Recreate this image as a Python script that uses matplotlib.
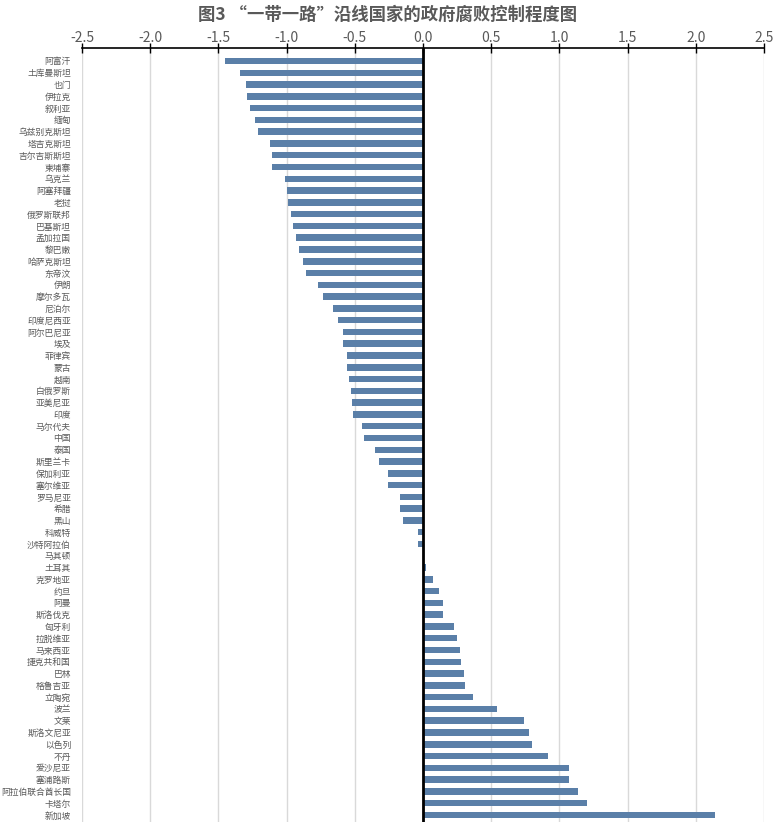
import matplotlib
matplotlib.use('Agg')
from matplotlib import pyplot as plt

plt.rcParams['font.family'] = ['Noto Sans CJK SC', 'DejaVu Sans']

title = '图3 “一带一路”沿线国家的政府腐败控制程度图'

countries = [
    '阿富汗', '土库曼斯坦', '也门', '伊拉克', '叙利亚', '缅甸', '乌兹别克斯坦',
    '塔吉克斯坦', '吉尔吉斯斯坦', '柬埔寨', '乌克兰', '阿塞拜疆', '老挝',
    '俄罗斯联邦', '巴基斯坦', '孟加拉国', '黎巴嫩', '哈萨克斯坦', '东帝汶',
    '伊朗', '摩尔多瓦', '尼泊尔', '印度尼西亚', '阿尔巴尼亚', '埃及', '菲律宾',
    '蒙古', '越南', '白俄罗斯', '亚美尼亚', '印度', '马尔代夫', '中国', '泰国',
    '斯里兰卡', '保加利亚', '塞尔维亚', '罗马尼亚', '希腊', '黑山', '科威特',
    '沙特阿拉伯', '马其顿', '土耳其', '克罗地亚', '约旦', '阿曼', '斯洛伐克',
    '匈牙利', '拉脱维亚', '马来西亚', '捷克共和国', '巴林', '格鲁吉亚', '立陶宛',
    '波兰', '文莱', '斯洛文尼亚', '以色列', '不丹', '爱沙尼亚', '塞浦路斯',
    '阿拉伯联合酋长国', '卡塔尔', '新加坡',
]

scores = [
    -1.45, -1.34, -1.30, -1.29, -1.27, -1.23, -1.21,
    -1.12, -1.11, -1.11, -1.01, -1.00, -0.99,
    -0.97, -0.95, -0.93, -0.91, -0.88, -0.86,
    -0.77, -0.73, -0.66, -0.62, -0.59, -0.59, -0.56,
    -0.56, -0.54, -0.53, -0.52, -0.51, -0.45, -0.43, -0.35,
    -0.32, -0.26, -0.26, -0.17, -0.17, -0.15, -0.04,
    -0.04, 0.00, 0.02, 0.07, 0.12, 0.15, 0.15,
    0.23, 0.25, 0.27, 0.28, 0.30, 0.31, 0.37,
    0.54, 0.74, 0.78, 0.80, 0.92, 1.07, 1.07,
    1.14, 1.20, 2.14,
]

xticks = [-2.5, -2.0, -1.5, -1.0, -0.5, 0.0, 0.5, 1.0, 1.5, 2.0, 2.5]

fig = plt.figure(figsize=(7.76, 8.24), dpi=100)
ax = fig.add_axes([0.1057, 0.0024, 0.8788, 0.9393])

pos = list(range(len(countries)))
ax.barh(pos, scores, height=0.55, color='#5a7fa8', zorder=3)

ax.set_xlim(-2.5, 2.5)
ax.set_ylim(len(countries) - 0.4, -1.1)
ax.set_xticks(xticks)
ax.set_xticklabels(['%.1f' % t for t in xticks])
ax.set_yticks(pos)
ax.set_yticklabels(countries)

ax.xaxis.tick_top()
ax.tick_params(axis='x', direction='inout', length=7, width=1, colors='#000000',
               labelcolor='#595959', labelsize=10, pad=-1)
ax.tick_params(axis='y', length=0, labelsize=6.3, labelcolor='#595959', pad=8)

ax.grid(axis='x', color='#d9d9d9', linewidth=1, zorder=0)
for s in ['left', 'right', 'bottom']:
    ax.spines[s].set_visible(False)
ax.spines['top'].set_color('#000000')
ax.spines['top'].set_linewidth(1.2)
ax.axvline(0, color='#000000', linewidth=2, zorder=4)

fig.text(0.5, 0.982, title, ha='center', va='center', fontsize=12.5,
         fontweight='bold', color='#595959')

fig.savefig('out.png', dpi=100)
